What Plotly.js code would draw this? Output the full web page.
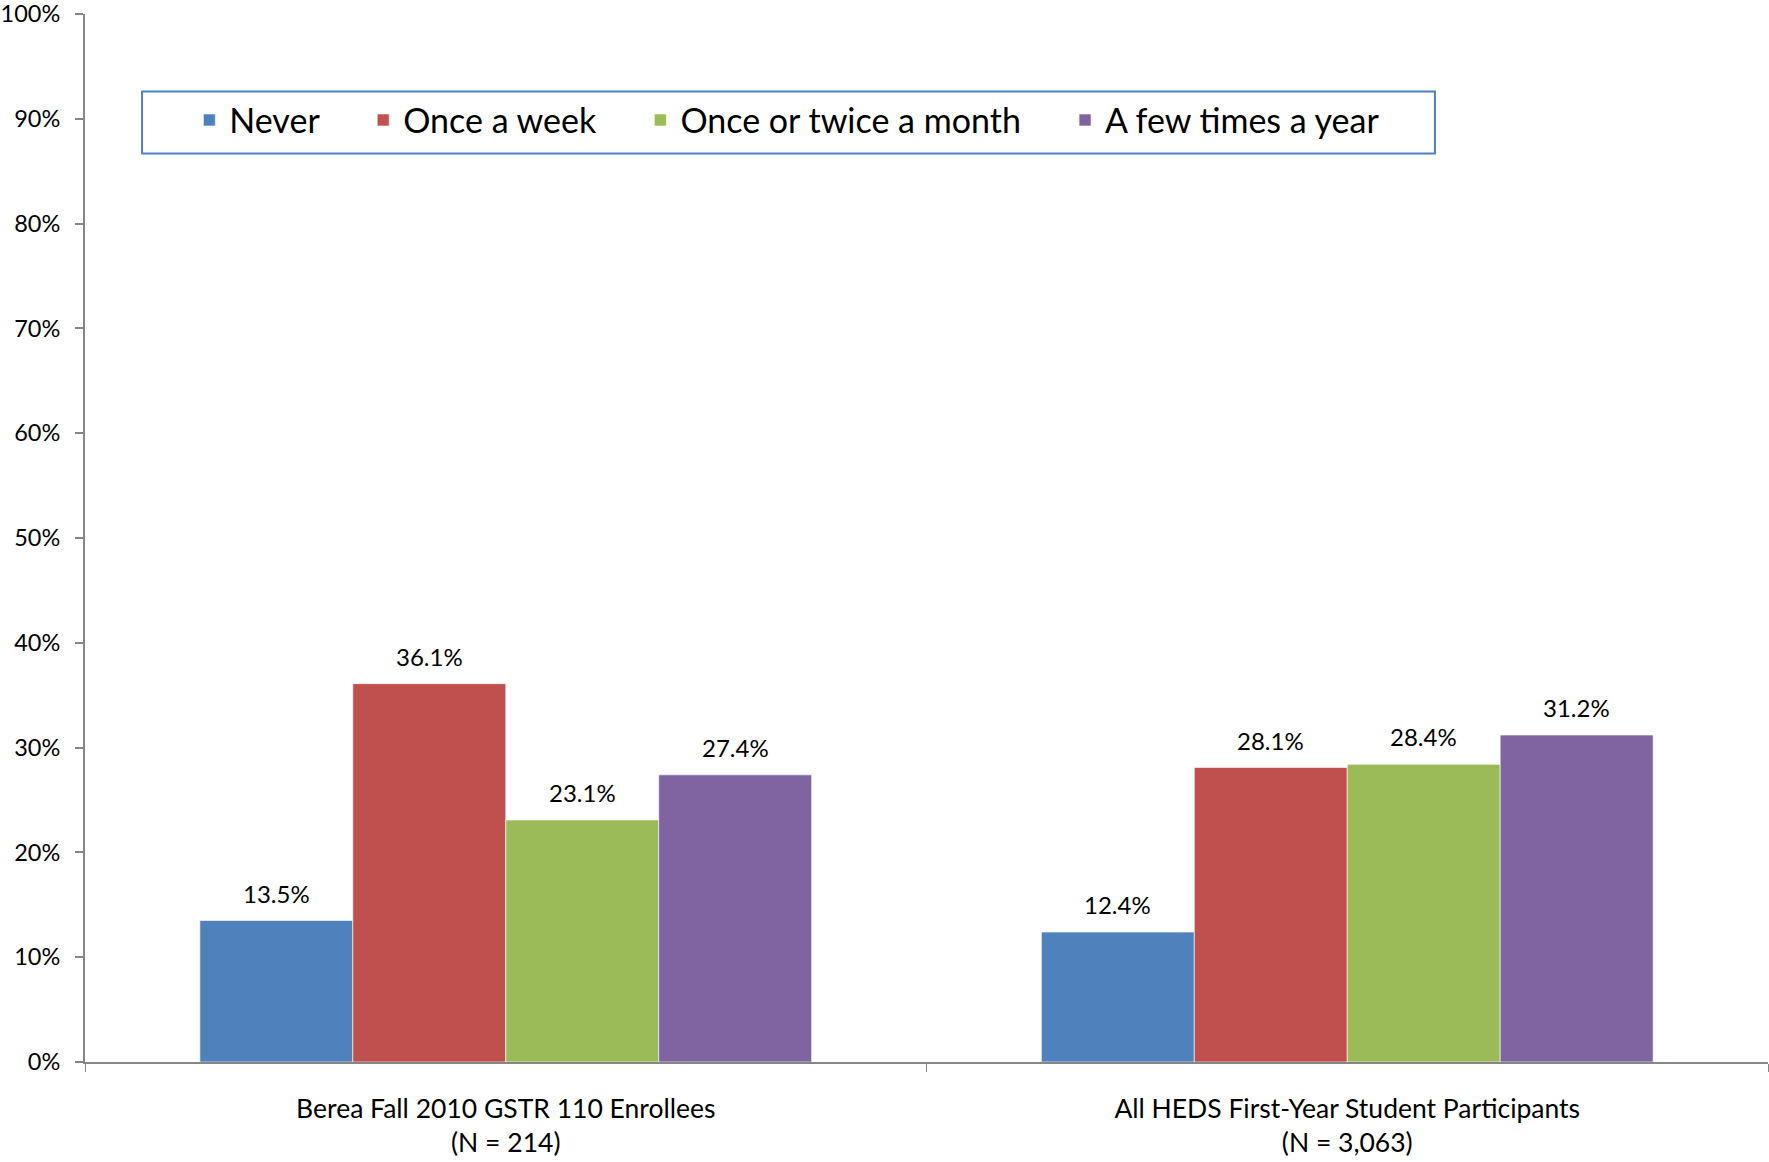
<!DOCTYPE html>
<html>
<head>
<meta charset="utf-8">
<script src="https://cdn.plot.ly/plotly-3.0.1.min.js"></script>
<style>html,body{margin:0;padding:0;background:#fff;}#chart{width:1769px;height:1162px;}</style>
</head>
<body>
<div id="chart"></div>
<script>
const categories = ["Berea Fall 2010 GSTR 110 Enrollees<br>(N = 214)", "All HEDS First-Year Student Participants<br>(N = 3,063)"];
const seriesNames = ["Never", "Once a week", "Once or twice a month", "A few times a year"];
const never = [13.5, 12.4];
const onceWeek = [36.1, 28.1];
const onceTwiceMonth = [23.1, 28.4];
const fewTimesYear = [27.4, 31.2];
const yTickValues = [0, 10, 20, 30, 40, 50, 60, 70, 80, 90, 100];

const seriesValues = [never, onceWeek, onceTwiceMonth, fewTimesYear];
const colors = ["#4F81BD", "#C0504D", "#9BBB59", "#8064A2"];
const FONT = "Lato, 'Open Sans', sans-serif";
const bargap = 0.273;
const barW = (1 - bargap) / seriesValues.length;
const legendPad = "\u00A0\u00A0\u00A0\u00A0<span style=\"font-size:17px\">\u00A0</span>";

const traces = seriesValues.map((vals, i) => ({
  type: "bar",
  name: seriesNames[i] + legendPad,
  x: categories,
  y: vals,
  marker: {color: colors[i], line: {color: "rgba(255,255,255,0.6)", width: 1}},
  hoverinfo: "none"
}));

const annotations = [];
seriesValues.forEach((vals, i) => {
  vals.forEach((v, j) => {
    annotations.push({
      x: j + (i - (seriesValues.length - 1) / 2) * barW,
      y: v,
      xref: "x", yref: "y",
      text: v.toFixed(1) + "%",
      showarrow: false,
      yanchor: "bottom",
      yshift: 11,
      font: {family: FONT, size: 24, color: "#000"}
    });
  });
});

const layout = {
  width: 1769, height: 1162,
  margin: {l: 85, r: 1, t: 14, b: 100, pad: 0},
  paper_bgcolor: "#fff", plot_bgcolor: "#fff",
  barmode: "group", bargap: bargap, bargroupgap: 0,
  showlegend: true,
  legend: {
    orientation: "h", x: 0.062, y: 0.8985, xanchor: "left", yanchor: "middle",
    font: {family: FONT, size: 34, color: "#000"},
    bgcolor: "rgba(0,0,0,0)", borderwidth: 0,
    traceorder: "normal"
  },
  shapes: [{
    type: "rect", xref: "paper", yref: "paper",
    x0: 0.0339, x1: 0.8021, y0: 0.8668, y1: 0.9260,
    line: {color: "#4F81BD", width: 2}, fillcolor: "rgba(0,0,0,0)"
  }],
  xaxis: {
    type: "category",
    tickson: "boundaries", ticks: "outside", ticklen: 8, tickcolor: "#868686", tickwidth: 1,
    showline: true, linecolor: "#868686", linewidth: 2,
    showgrid: false, zeroline: false,
    ticklabelstandoff: 22,
    tickfont: {family: FONT, size: 26.5, color: "#000"}
  },
  yaxis: {
    range: [0, 100], tickvals: yTickValues, ticktext: yTickValues.map(v => v + "%"),
    ticks: "outside", ticklen: 8, tickcolor: "#868686", tickwidth: 2,
    showline: true, linecolor: "#868686", linewidth: 2,
    showgrid: false, zeroline: false,
    ticklabelstandoff: 10, ticklabeloverflow: "allow",
    tickfont: {family: FONT, size: 23.5, color: "#000"}
  },
  annotations: annotations
};

Plotly.newPlot("chart", traces, layout, {displayModeBar: false, staticPlot: true});
</script>
</body>
</html>
